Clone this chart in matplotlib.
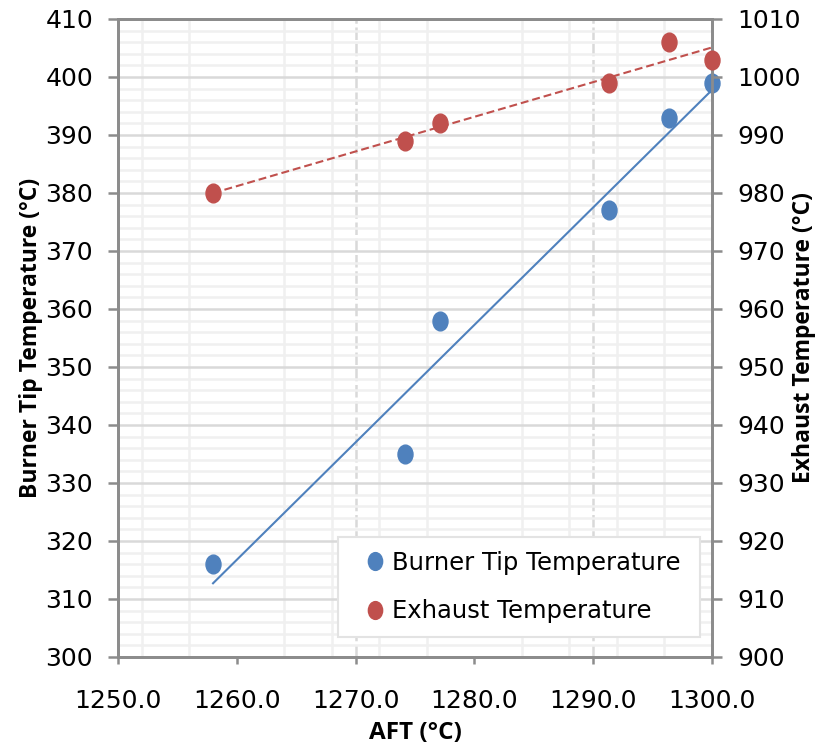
import numpy as np
import matplotlib
matplotlib.use("Agg")
import matplotlib.pyplot as plt
from matplotlib.path import Path
from matplotlib.patches import Rectangle
from matplotlib.ticker import MultipleLocator, FormatStrFormatter

plt.rcParams['font.family'] = ['DejaVu Sans']

# values
aft = [1258.0, 1274.2, 1277.1, 1291.3, 1296.4, 1300.0]
burner_tip = [316, 335, 358, 377, 393, 399]
exhaust = [980, 989, 992, 999, 1006, 1003]

blue = '#4f81bd'
red = '#c0504d'
grid_major = '#d9d9d9'
grid_minor = '#f0f0f0'
spine_col = '#8c8c8c'
label_font = ['Open Sans', 'DejaVu Sans']

# slightly tall ellipse marker, like the Excel one
circ = Path.unit_circle()
oval = Path(circ.vertices * [0.8, 1.0], circ.codes)

W, H = 821, 751
fig = plt.figure(figsize=(W / 100, H / 100), dpi=100)
ax = fig.add_axes([118 / W, 1 - 657 / H, (712 - 118) / W, (657 - 19) / H])
ax2 = ax.twinx()

ax.set_xlim(1250, 1300)
ax.set_ylim(300, 410)
ax2.set_ylim(900, 1010)

ax.xaxis.set_major_locator(MultipleLocator(10))
ax.xaxis.set_minor_locator(MultipleLocator(4))
ax.yaxis.set_major_locator(MultipleLocator(10))
ax.yaxis.set_minor_locator(MultipleLocator(2))
ax2.yaxis.set_major_locator(MultipleLocator(10))
ax.xaxis.set_major_formatter(FormatStrFormatter('%.1f'))

# grid: light minor lines, solid major horizontals, dashed verticals every 20
ax.grid(which='minor', color=grid_minor, lw=1.8, zorder=0)
ax.grid(which='major', axis='y', color=grid_major, lw=1.8, zorder=0)
for xv in np.arange(1270, 1300, 20):
    ax.axvline(xv, color=grid_major, lw=1.8, ls=(0, (5, 1.5)), zorder=0.5)
ax.set_axisbelow(True)

for a in (ax, ax2):
    for s in a.spines.values():
        s.set_color(spine_col)
        s.set_linewidth(2)
    a.tick_params(which='major', direction='out', length=7, width=1.8, color=spine_col,
                  labelsize=18, labelcolor='black', pad=11)
    a.tick_params(which='minor', length=0)
ax.tick_params(axis='x', length=5, pad=18)

# trend lines
p1 = np.polyfit(aft, burner_tip, 1)
xs = np.array([min(aft), max(aft)])
ax.plot(xs, np.polyval(p1, xs), color=blue, lw=1.5, zorder=2)
p2 = np.polyfit(aft, exhaust, 1)
ax2.plot(xs, np.polyval(p2, xs), color=red, lw=1.5, ls=(0, (3.8, 1.9)), zorder=2)

h1, = ax.plot(aft, burner_tip, ls='none', marker=oval, ms=13.5, color=blue, zorder=3,
              label='Burner Tip Temperature', clip_on=False)
h2, = ax2.plot(aft, exhaust, ls='none', marker=oval, ms=13.5, color=red, zorder=3,
               label='Exhaust Temperature', clip_on=False)

ax.set_xlabel('AFT (°C)', fontsize=17.5, fontweight='bold', family=label_font, labelpad=6)
ax.set_ylabel('Burner Tip Temperature (°C)', fontsize=16.5, fontweight='bold',
              family=label_font)
ax2.set_ylabel('Exhaust Temperature (°C)', fontsize=16.5, fontweight='bold',
               family=label_font)
ax.yaxis.set_label_coords((43 - 118) / 594, 0.5)
ax2.yaxis.set_label_coords((792 - 118) / 594, 0.5)

# legend frame drawn separately so the padding can match Excel's
frame = Rectangle((338 / W, 1 - 637 / H), (700 - 338) / W, 100 / H,
                  transform=fig.transFigure, facecolor='white',
                  edgecolor='#e3e3e3', lw=1.5, zorder=5, clip_on=False)
ax2.add_patch(frame)
leg = ax2.legend(handles=[h1, h2], loc='upper left', bbox_to_anchor=(360 / W, 1 - 551 / H),
                 bbox_transform=fig.transFigure, borderaxespad=0, borderpad=0,
                 fontsize=17.5, frameon=False, handlelength=1.2, handletextpad=0.12,
                 labelspacing=1.0, markerscale=0.95)
leg.set_zorder(6)

fig.savefig('out.png', dpi=100)
